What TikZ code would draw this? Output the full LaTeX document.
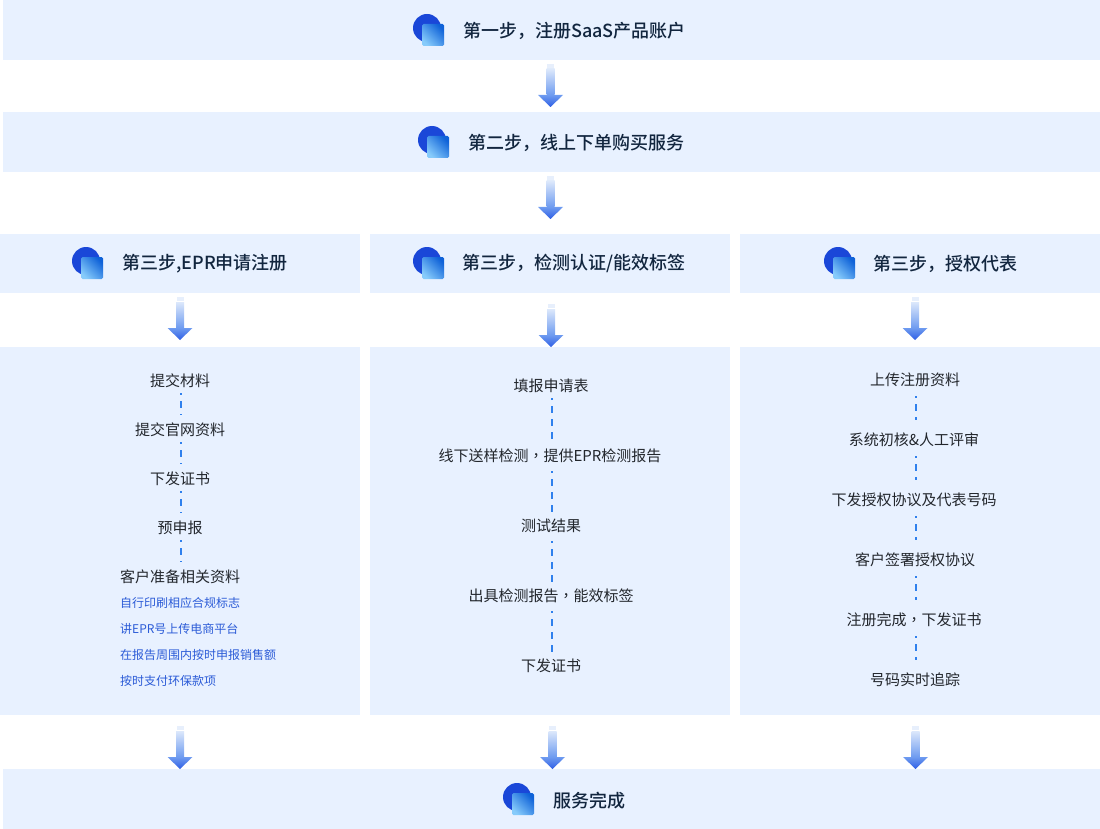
\documentclass[tikz,border=0pt]{standalone}
\usepackage{fontspec}
\setmainfont{Noto Sans CJK SC}
\newfontfamily\medfont{Noto Sans CJK SC Medium}
\newfontfamily\tcfont{Noto Sans CJK TC}
\newcommand{\midcomma}{{\tcfont ，}}
\usetikzlibrary{calc}
\definecolor{panelbg}{HTML}{E8F1FF}
\definecolor{headtext}{HTML}{12263F}
\definecolor{bodytext}{HTML}{22262C}
\definecolor{subtext}{HTML}{2B5BD7}
\definecolor{dotline}{HTML}{2F80ED}
\definecolor{arrowhi}{HTML}{6E9BF0}
\definecolor{arrowlo}{HTML}{2F5FE5}
\definecolor{shaftpale}{HTML}{DCE8FB}
\definecolor{iconblue}{HTML}{1A47D8}
\definecolor{squareA}{HTML}{0F62D8}
\definecolor{squareB}{HTML}{86CBFB}
\tikzset{
  panel/.style={fill=panelbg,draw=none,inner sep=0pt,outer sep=0pt,anchor=north west},
  headlabel/.style={font=\medfont\fontsize{18}{20}\selectfont,text=headtext,anchor=west,inner sep=0pt},
  steplabel/.style={font=\fontsize{15}{18}\selectfont,text=bodytext,inner sep=1pt,anchor=center},
  sublabel/.style={font=\fontsize{12}{14}\selectfont,text=subtext,inner sep=0pt,anchor=west},
  dotlink/.style 2 args={draw=dotline,line width=2pt,dash pattern=on 7pt off 6pt,dash phase=5pt,shorten <=#1pt,shorten >=#2pt}
}
\newcommand{\headicon}[1]{%
  \fill[iconblue] (#1) circle (14);
  \shade[rounded corners=1.5pt,left color=squareA,right color=squareB,shading angle=-45]
    ($(#1)+(-5,-4)$) rectangle ($(#1)+(17,18)$);
}
\newcommand{\flowarrow}[2]{%
  \fill[shaftpale!70!white] ($(#1)+(-3.5,0)$) rectangle ($(#1)+(3.5,4)$);
  \shade[top color=shaftpale,bottom color=arrowhi]
    ($(#1)+(-4,5)$) -- ($(#1)+(4,5)$) -- ($(#2)+(4,-12)$) -- ($(#2)+(-4,-12)$) -- cycle;
  \shade[top color=arrowhi,bottom color=arrowlo]
    ($(#2)+(-12.5,-12)$) -- ($(#2)+(12.5,-12)$) -- (#2) -- cycle;
}
\begin{document}
\begin{tikzpicture}[x=1pt,y=-1pt]
\useasboundingbox (0,0) rectangle (1100,829);
% panels
\node[panel,minimum width=1097pt,minimum height=60pt] (top1) at (3,0) {};
\node[panel,minimum width=1097pt,minimum height=60pt] (top2) at (3,112) {};
\node[panel,minimum width=360pt,minimum height=59pt] (headA) at (0,234) {};
\node[panel,minimum width=360pt,minimum height=59pt] (headB) at (370,234) {};
\node[panel,minimum width=360pt,minimum height=59pt] (headC) at (740,234) {};
\node[panel,minimum width=360pt,minimum height=368pt] (bodyA) at (0,347) {};
\node[panel,minimum width=360pt,minimum height=368pt] (bodyB) at (370,347) {};
\node[panel,minimum width=360pt,minimum height=368pt] (bodyC) at (740,347) {};
\node[panel,minimum width=1097pt,minimum height=60pt] (done) at (3,769) {};
% icons
\coordinate (ic1) at (427,28); \headicon{ic1}
\coordinate (ic2) at (432,140); \headicon{ic2}
\coordinate (ic3) at (86,261); \headicon{ic3}
\coordinate (ic4) at (427,261); \headicon{ic4}
\coordinate (ic5) at (838,261); \headicon{ic5}
\coordinate (ic6) at (517,797); \headicon{ic6}
% head labels
\node[headlabel] (t1) at (463,30.5) {第一步，注册SaaS产品账户};
\node[headlabel] (t2) at (468,142.5) {第二步，线上下单购买服务};
\node[headlabel] (t3) at (122,263.5) {第三步,EPR申请注册};
\node[headlabel] (t4) at (462,263.5) {第三步，检测认证/能效标签};
\node[headlabel] (t5) at (873,263.5) {第三步，授权代表};
\node[headlabel] (t6) at (553,800.5) {服务完成};
% arrows
\coordinate (a1s) at (550.5,64);  \coordinate (a1e) at (550.5,107); \flowarrow{a1s}{a1e}
\coordinate (a2s) at (550.5,176); \coordinate (a2e) at (550.5,219); \flowarrow{a2s}{a2e}
\coordinate (a3s) at (180,297); \coordinate (a3e) at (180,340); \flowarrow{a3s}{a3e}
\coordinate (a4s) at (551,304); \coordinate (a4e) at (551,347); \flowarrow{a4s}{a4e}
\coordinate (a5s) at (915,297); \coordinate (a5e) at (915,340); \flowarrow{a5s}{a5e}
\coordinate (a6s) at (180,726); \coordinate (a6e) at (180,769); \flowarrow{a6s}{a6e}
\coordinate (a7s) at (552.5,726); \coordinate (a7e) at (552.5,769); \flowarrow{a7s}{a7e}
\coordinate (a8s) at (915.5,726); \coordinate (a8e) at (915.5,769); \flowarrow{a8s}{a8e}
% column A
\node[steplabel] (A1) at (180,380.5) {提交材料};
\node[steplabel] (A2) at (180,429.5) {提交官网资料};
\node[steplabel] (A3) at (180,478.5) {下发证书};
\node[steplabel] (A4) at (180,527.5) {预申报};
\node[steplabel] (A5) at (180,576.5) {客户准备相关资料};
\draw[dotlink={12.5}{15}] (A1.center) ++(0.5,0) coordinate (Ax) -- (A2.center -| Ax);
\draw[dotlink={12.5}{15}] (A2.center -| Ax) -- (A3.center -| Ax);
\draw[dotlink={12.5}{15}] (A3.center -| Ax) -- (A4.center -| Ax);
\draw[dotlink={12.5}{15}] (A4.center -| Ax) -- (A5.center -| Ax);
\node[sublabel] (S1) at (120,602.5) {自行印刷相应合规标志};
\node[sublabel] (S2) at (120,628.5) {讲EPR号上传电商平台};
\node[sublabel] (S3) at (120,654.5) {在报告周围内按时申报销售额};
\node[sublabel] (S4) at (120,680.5) {按时支付环保款项};
% column B
\node[steplabel] (B1) at (551,385.5) {填报申请表};
\node[steplabel] (B2) at (550,455.5) {线下送样检测\midcomma 提供EPR检测报告};
\node[steplabel] (B3) at (551,525.5) {测试结果};
\node[steplabel] (B4) at (551,595.5) {出具检测报告\midcomma 能效标签};
\node[steplabel] (B5) at (551,665.5) {下发证书};
\coordinate (Bx) at (552,385.5);
\draw[dotlink={12.5}{16.5}] (B1.center -| Bx) -- (B2.center -| Bx);
\draw[dotlink={15.5}{12.5}] (B2.center -| Bx) -- (B3.center -| Bx);
\draw[dotlink={15.5}{12.5}] (B3.center -| Bx) -- (B4.center -| Bx);
\draw[dotlink={15.5}{12.5}] (B4.center -| Bx) -- (B5.center -| Bx);
% column C
\node[steplabel] (C1) at (915,379.5) {上传注册资料};
\node[steplabel] (C2) at (914,439.5) {系统初核\&人工评审};
\node[steplabel] (C3) at (914,499.5) {下发授权协议及代表号码};
\node[steplabel] (C4) at (915,559.5) {客户签署授权协议};
\node[steplabel] (C5) at (914,619.5) {注册完成\midcomma 下发证书};
\node[steplabel] (C6) at (915,679.5) {号码实时追踪};
\coordinate (Cx) at (916,379.5);
\draw[dotlink={16.5}{19.5}] (C1.center -| Cx) -- (C2.center -| Cx);
\draw[dotlink={16.5}{19.5}] (C2.center -| Cx) -- (C3.center -| Cx);
\draw[dotlink={16.5}{19.5}] (C3.center -| Cx) -- (C4.center -| Cx);
\draw[dotlink={16.5}{19.5}] (C4.center -| Cx) -- (C5.center -| Cx);
\draw[dotlink={16.5}{19.5}] (C5.center -| Cx) -- (C6.center -| Cx);
\end{tikzpicture}
\end{document}
